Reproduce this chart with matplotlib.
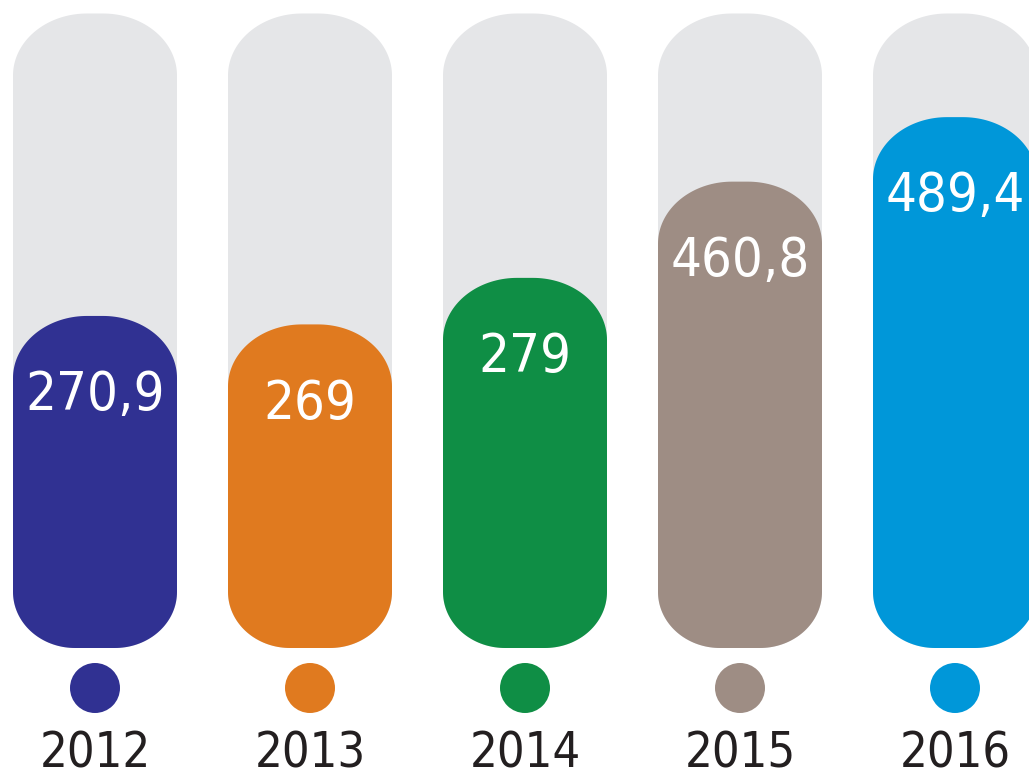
import numpy as np
import matplotlib
matplotlib.use("Agg")
import matplotlib.pyplot as plt
from matplotlib.patches import Polygon
from matplotlib import font_manager
from matplotlib.font_manager import FontProperties

# ---- data ----
years = ["2012", "2013", "2014", "2015", "2016"]
value_labels = ["270,9", "269", "279", "460,8", "489,4"]
values = [270.9, 269.0, 279.0, 460.8, 489.4]
# drawn bar heights (infographic, not to scale)
bar_heights = [314, 306, 350, 441, 502]
track_max = 600
colors = ["#303192", "#e07a1f", "#0f8e45", "#9e8d84", "#0097d9"]
track_color = "#e5e6e8"
text_dark = "#231f20"

# ---- fonts: prefer a narrow sans (Arial Narrow look) ----
narrow_file = None
for key in ["LiberationSansNarrow-Regular", "LiberationSansNarrow", "DejaVuSansCondensed.ttf",
            "RobotoCondensed-Regular", "OpenSans_Condensed-Regular", "OpenSansCondensed"]:
    for f in font_manager.fontManager.ttflist:
        if key.lower() in f.fname.replace(" ", "").lower():
            narrow_file = f.fname
            break
    if narrow_file:
        break

if narrow_file:
    val_fp = FontProperties(fname=narrow_file, size=45)
    year_fp = FontProperties(fname=narrow_file, size=40)
    if "DejaVu" in narrow_file:
        val_fp = FontProperties(fname=narrow_file, size=39)
        year_fp = FontProperties(fname=narrow_file, size=35)
else:
    val_fp = FontProperties(family=["Liberation Sans", "DejaVu Sans"], size=40)
    year_fp = FontProperties(family=["Liberation Sans", "DejaVu Sans"], size=34)

W, H = 1029, 771
fig = plt.figure(figsize=(W / 100, H / 100), dpi=100)
ax = fig.add_axes([0, 0, 1, 1])
ax.set_axis_off()

px_x = 215.0              # pixels per category
px_y = 634.5 / track_max  # pixels per value unit
x0_px, base_px = 95.0, 648.0
ax.set_xlim(-x0_px / px_x, (W - x0_px) / px_x)
ax.set_ylim(-(H - base_px) / px_y, base_px / px_y)

bar_w = 164 / px_x


def rounded_rect(xc, w, y0, y1, rx_top, ry_top, rx_bot, ry_bot, n=40):
    xl, xr = xc - w / 2, xc + w / 2
    pts = []
    t = np.linspace(np.pi, 1.5 * np.pi, n)
    pts += list(zip(xl + rx_bot + rx_bot * np.cos(t), y0 + ry_bot + ry_bot * np.sin(t)))
    t = np.linspace(1.5 * np.pi, 2 * np.pi, n)
    pts += list(zip(xr - rx_bot + rx_bot * np.cos(t), y0 + ry_bot + ry_bot * np.sin(t)))
    t = np.linspace(0, 0.5 * np.pi, n)
    pts += list(zip(xr - rx_top + rx_top * np.cos(t), y1 - ry_top + ry_top * np.sin(t)))
    t = np.linspace(0.5 * np.pi, np.pi, n)
    pts += list(zip(xl + rx_top + rx_top * np.cos(t), y1 - ry_top + ry_top * np.sin(t)))
    return np.array(pts)


rxt, ryt = 74 / px_x, 62 / px_y
rxb, ryb = 62 / px_x, 56 / px_y

for i, (h, c) in enumerate(zip(bar_heights, colors)):
    ax.add_patch(Polygon(rounded_rect(i, bar_w, 0, track_max, rxt, ryt, rxb, ryb),
                         closed=True, facecolor=track_color, edgecolor="none"))
    ax.add_patch(Polygon(rounded_rect(i, bar_w, 0, h, rxt, ryt, rxb, ryb),
                         closed=True, facecolor=c, edgecolor="none"))
    ax.annotate(value_labels[i], xy=(i, h), xytext=(0, -57), textcoords="offset points",
                ha="center", va="center", color="white", fontproperties=val_fp)

xs = np.arange(len(years))
ax.scatter(xs, np.full(len(xs), -40 / px_y), s=36 ** 2, c=colors, linewidths=0, clip_on=False)
for i, y in enumerate(years):
    ax.text(i, -120 / px_y, y, ha="center", va="baseline",
            color=text_dark, fontproperties=year_fp)

fig.savefig("out.png", dpi=100)
